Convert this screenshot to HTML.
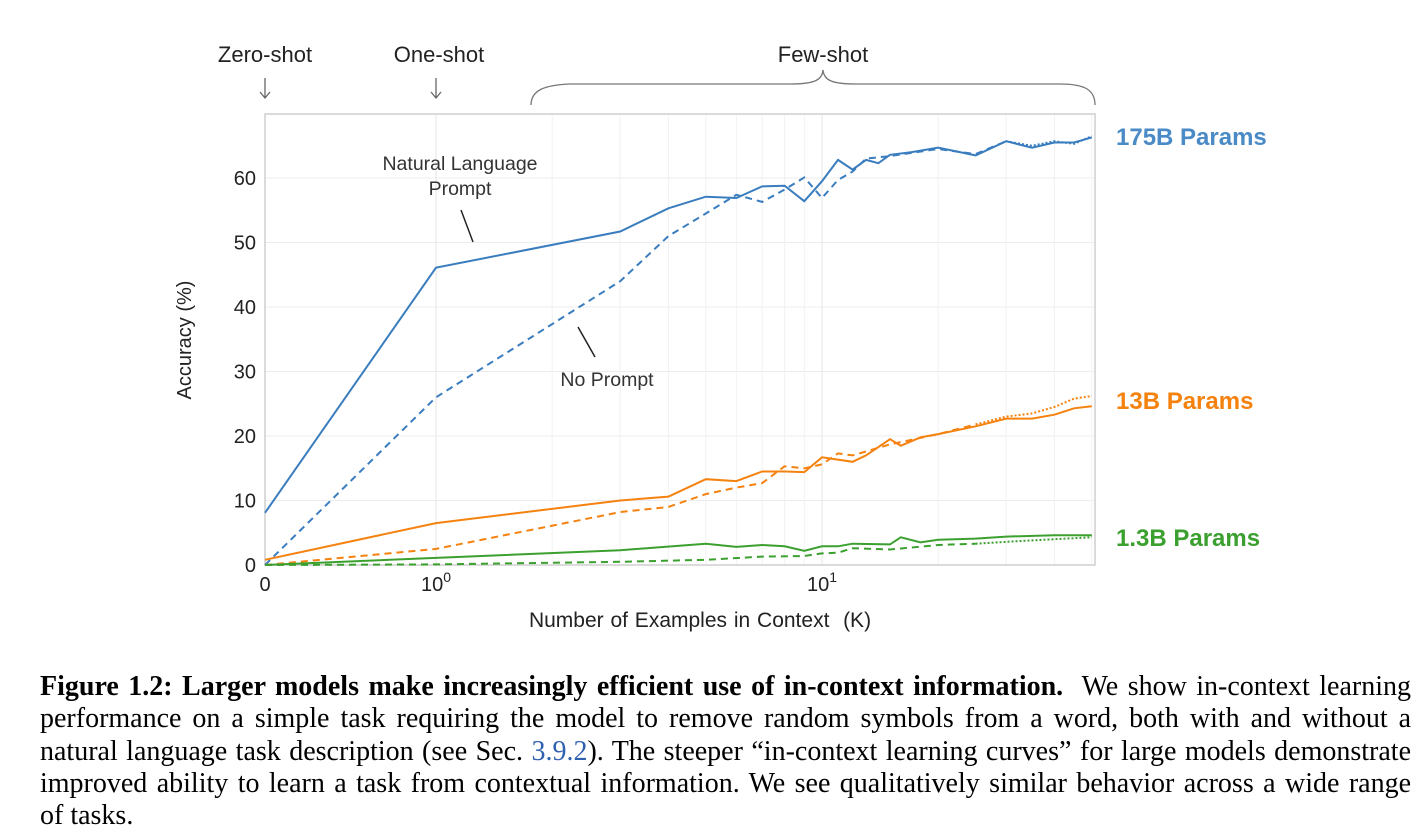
<!DOCTYPE html>
<html><head><meta charset="utf-8">
<style>
body{margin:0;background:#fff;width:1421px;height:826px;overflow:hidden;position:relative;font-family:"Liberation Sans",sans-serif;}
#cap{position:absolute;left:40px;top:671px;width:1371px;font-family:"Liberation Serif",serif;font-size:28px;line-height:32.3px;text-align:justify;color:#000;}
#cap b{font-weight:bold}
#cap .lnk{color:#3060b0}
</style></head><body>
<svg id="chart" width="1421" height="660" style="position:absolute;left:0;top:0" font-family="Liberation Sans, sans-serif"></svg>
<div id="cap"><b>Figure 1.2: Larger models make increasingly efficient use of in-context information.</b>&nbsp; We show in-context learning performance on a simple task requiring the model to remove random symbols from a word, both with and without a natural language task description (see Sec. <span class="lnk">3.9.2</span>). The steeper “in-context learning curves” for large models demonstrate improved ability to learn a task from contextual information. We see qualitatively similar behavior across a wide range <span style="white-space:nowrap">of tasks.</span></div>
<script>
const yTicks=[0,10,20,30,40,50,60];
const kBlueS=[0,1,3,4,5,6,7,8,9,10,11,12,13,14,15,17,20,25,30,35,40,45,50];
const vBlueS=[8.1,46.1,51.7,55.3,57.1,56.9,58.7,58.8,56.4,59.5,62.8,61.3,62.8,62.3,63.6,64,64.7,63.5,65.7,64.7,65.5,65.5,66.3];
const kBlueD=[0,1,3,4,5,6,7,8,9,10,11,12,13,15,20,25,30];
const vBlueD=[0,26,44,51,54.5,57.4,56.3,58.2,60.1,56.9,59.7,61,63,63.4,64.5,63.7,65.7];
const kBlueP=[30,35,40,45,50];
const vBlueP=[65.7,65,65.7,65.3,66.5];
const kOrS=[0,1,3,4,5,6,7,8,9,10,12,13,15,16,18,20,25,30,35,40,45,50];
const vOrS=[0.8,6.5,10,10.6,13.3,13,14.5,14.5,14.4,16.7,16,17,19.5,18.5,19.8,20.3,21.5,22.7,22.7,23.3,24.3,24.6];
const kOrD=[0,1,3,4,5,6,7,8,9,10,11,12,15,20,25];
const vOrD=[0,2.5,8.2,9,11,12,12.7,15.3,15,15.6,17.3,17,18.7,20.3,21.8];
const kOrP=[25,30,35,40,45,50];
const vOrP=[21.8,23,23.5,24.5,25.8,26.2];
const kGrS=[0,1,3,5,6,7,8,9,10,11,12,15,16,18,20,25,30,40,50];
const vGrS=[0,1.1,2.3,3.3,2.8,3.1,2.9,2.2,2.9,2.9,3.3,3.2,4.3,3.5,3.9,4.1,4.4,4.6,4.6];
const kGrD=[0,1,3,5,7,9,10,11,12,15,20,25];
const vGrD=[0,0.1,0.5,0.8,1.3,1.4,1.8,1.9,2.6,2.4,3.1,3.3];
const kGrP=[25,30,40,50];
const vGrP=[3.3,3.6,4,4.3];

const L=265,R=1095,T=114,B=565;
const X0=265,X1=436,DEC=386;
function xs(k){return k<=1?X0+(X1-X0)*k:X1+Math.log10(k)*DEC;}
function ys(v){return B-(v/60)*(B-178);}
const svg=document.getElementById('chart');
const NS='http://www.w3.org/2000/svg';
function el(t,a,p){const e=document.createElementNS(NS,t);for(const k in a)e.setAttribute(k,a[k]);(p||svg).appendChild(e);return e;}
const g=el('g',{});


for(const v of yTicks){const y=ys(v);el('line',{x1:L,x2:R,y1:y,y2:y,stroke:'#ececec','stroke-width':1},g);}
for(const k of [2,3,4,5,6,7,8,9,20,30,40,50]){const x=xs(k);if(x>R)break;el('line',{x1:x,x2:x,y1:T,y2:B,stroke:'#f2f2f2','stroke-width':1},g);}
for(const k of [1,10]){const x=xs(k);el('line',{x1:x,x2:x,y1:T,y2:B,stroke:'#e6e6e6','stroke-width':1},g);}
const fr=el('rect',{x:L,y:T,width:R-L,height:B-T,fill:'none',stroke:'#cfcfcf','stroke-width':1.5});


yTicks.forEach(v=>{const t=el('text',{x:256,y:ys(v)+7,'text-anchor':'end','font-size':20,fill:'#222'});t.textContent=v;

});
function xt(x,html,name){const t=el('text',{x:x,y:591,'text-anchor':'middle','font-size':20,fill:'#222'});t.innerHTML=html;

}
xt(xs(0),'0','x-tick-0');
xt(xs(1),'10<tspan dy="-9" font-size="14">0</tspan>','x-tick-1');
xt(xs(10),'10<tspan dy="-9" font-size="14">1</tspan>','x-tick-10');
const xl=el('text',{x:700,y:627,'text-anchor':'middle','font-size':21,fill:'#222','word-spacing':'1px'});xl.textContent='Number of Examples in Context \u00a0(K)';


const yl=el('text',{x:0,y:0,'text-anchor':'middle','font-size':20,fill:'#222',transform:'translate(191,340) rotate(-90)'});yl.textContent='Accuracy (%)';


function line(ks,vs,color,dash,name){const d=ks.map((k,i)=>(i?'L':'M')+xs(k).toFixed(1)+','+ys(vs[i]).toFixed(1)).join('');
const p=el('path',{d:d,fill:'none',stroke:color,'stroke-width':2,'stroke-dasharray':dash||'none'});

}
const BL='#3a7dbf',OR='#f5820f',GR='#3ba02f';
line(kBlueS,vBlueS,BL,'','line-175b-prompt');
line(kBlueD,vBlueD,BL,'7,5','line-175b-no-prompt');
line(kBlueP,vBlueP,BL,'2,2','line-175b-no-prompt-dotted');
line(kOrS,vOrS,OR,'','line-13b-prompt');
line(kOrD,vOrD,OR,'7,5','line-13b-no-prompt');
line(kOrP,vOrP,OR,'2,2','line-13b-no-prompt-dotted');
line(kGrS,vGrS,GR,'','line-1-3b-prompt');
line(kGrD,vGrD,GR,'7,5','line-1-3b-no-prompt');
line(kGrP,vGrP,GR,'2,2','line-1-3b-no-prompt-dotted');
function txt(x,y,s,size,fill,name,weight,anchor){const t=el('text',{x:x,y:y,'font-size':size,fill:fill,'font-weight':weight||'normal','text-anchor':anchor||'start'});t.textContent=s;

return t;}
txt(1116,145,'175B Params',24,'#4a8ac6','label-175b','bold');
txt(1116,409,'13B Params',24,'#f5820f','label-13b','bold');
txt(1116,546,'1.3B Params',24,'#3ba02f','label-1-3b','bold');
txt(460,170,'Natural Language',19.5,'#333','annotation-nl-prompt',0,'middle');
txt(460,195,'Prompt',19.5,'#333','annotation-nl-prompt-2',0,'middle');
el('line',{x1:461,y1:210,x2:473,y2:242,stroke:'#222','stroke-width':1.5});
txt(607,386,'No Prompt',19.5,'#333','annotation-no-prompt',0,'middle');
el('line',{x1:578,y1:327,x2:595,y2:357,stroke:'#222','stroke-width':1.5});
txt(265,62,'Zero-shot',22,'#222','label-zero-shot',0,'middle');
txt(439,62,'One-shot',22,'#222','label-one-shot',0,'middle');
txt(823,62,'Few-shot',22,'#222','label-few-shot',0,'middle');
function arrow(x){el('path',{d:`M${x},78V98M${x-5},92L${x},98L${x+5},92`,fill:'none',stroke:'#666','stroke-width':1.3});}
arrow(265);arrow(436);
const br=el('path',{d:'M531,105C531,90 545,85 570,84L790,84C815,84 822,80 823,70C824,80 831,84 856,84L1060,84C1085,84 1095,90 1095,105',fill:'none',stroke:'#777','stroke-width':1.3});


</script>
</body></html>
